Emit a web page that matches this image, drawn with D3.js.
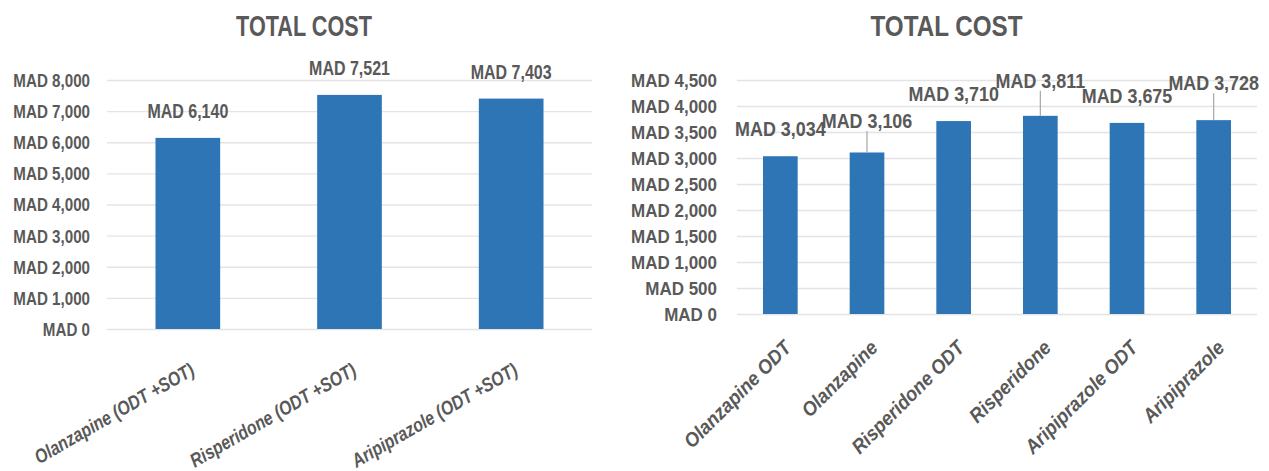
<!DOCTYPE html>
<html>
<head>
<meta charset="utf-8">
<script src="https://cdn.jsdelivr.net/npm/d3@7"></script>
<style>
  html, body { margin: 0; padding: 0; background: #ffffff; }
  svg { display: block; }
</style>
</head>
<body>
<svg id="chart" width="1269" height="471"></svg>
<script>
// Combined product cost (ODT + standard oral tablet)
const leftCategories = ["Olanzapine (ODT +SOT)", "Risperidone (ODT +SOT)", "Aripiprazole (ODT +SOT)"];
const leftValues = [6140, 7521, 7403];
const leftTicks = [0, 1000, 2000, 3000, 4000, 5000, 6000, 7000, 8000];

// Cost per formulation
const rightCategories = ["Olanzapine ODT", "Olanzapine", "Risperidone ODT", "Risperidone", "Aripiprazole ODT", "Aripiprazole"];
const rightValues = [3034, 3106, 3710, 3811, 3675, 3728];
const rightTicks = [0, 500, 1000, 1500, 2000, 2500, 3000, 3500, 4000, 4500];

const titleText = "TOTAL COST";

// Regular-width face, squeezed horizontally to a narrow look
const FONT = "'Liberation Sans', Arial, sans-serif";
const NARROW = 0.82;
const TITLE_NARROW = 0.91;
const TEXT_COLOR = "#595959";
const BAR_COLOR = "#2e75b6";
const GRID_COLOR = "#e4e4e4";
const LEADER_COLOR = "#a6a6a6";

const fmt = v => "MAD " + d3.format(",")(v);
const svg = d3.select("#chart");

function drawChart(cfg) {
  const sx = NARROW * cfg.widen;
  const g = svg.append("g");
  const x = d3.scaleBand().domain(cfg.categories)
    .range([cfg.x0, cfg.x1]).paddingInner(0.6).paddingOuter(0.3);
  const y = d3.scaleLinear().domain([0, d3.max(cfg.ticks)])
    .range([cfg.yBottom, cfg.yTop]);

  // horizontal gridlines
  const grid = g.append("g")
    .attr("transform", `translate(${cfg.x0},0)`)
    .call(d3.axisLeft(y).tickValues(cfg.ticks).tickSize(-(cfg.x1 - cfg.x0)).tickFormat(""));
  grid.select(".domain").remove();
  grid.selectAll("line").attr("stroke", GRID_COLOR).attr("stroke-width", 1.4);

  // value axis labels
  const yAxis = g.append("g")
    .attr("transform", `translate(${cfg.x0 - cfg.tickPad},0)`)
    .call(d3.axisLeft(y).tickValues(cfg.ticks).tickSize(0).tickPadding(0).tickFormat(fmt));
  yAxis.select(".domain").remove();
  yAxis.selectAll("line").remove();
  yAxis.selectAll("text")
    .attr("font-family", FONT).attr("font-weight", "bold")
    .attr("font-size", cfg.tickFont).attr("fill", TEXT_COLOR)
    .attr("x", 0).attr("dy", "0.35em")
    .attr("transform", `scale(${sx},1)`);

  const data = cfg.categories.map((c, i) => ({ c, v: cfg.values[i], lift: cfg.lift[i] }));

  // bars
  g.append("g").selectAll("rect").data(data).join("rect")
    .attr("x", d => x(d.c)).attr("width", x.bandwidth())
    .attr("y", d => y(d.v)).attr("height", d => y(0) - y(d.v))
    .attr("fill", BAR_COLOR);

  // leader lines for labels that sit further above their bar
  g.append("g").selectAll("line").data(data.filter(d => d.lift > 0)).join("line")
    .attr("x1", d => x(d.c) + x.bandwidth() / 2)
    .attr("x2", d => x(d.c) + x.bandwidth() / 2)
    .attr("y1", d => y(d.v) - cfg.labelGap - d.lift + 3)
    .attr("y2", d => y(d.v))
    .attr("stroke", LEADER_COLOR).attr("stroke-width", 1.2);

  // value labels
  g.append("g").selectAll("text").data(data).join("text")
    .attr("transform", d => `translate(${x(d.c) + x.bandwidth() / 2},${y(d.v) - cfg.labelGap - d.lift}) scale(${sx},1)`)
    .attr("text-anchor", "middle")
    .attr("font-family", FONT).attr("font-weight", "bold")
    .attr("font-size", cfg.labelFont).attr("fill", TEXT_COLOR)
    .text(d => fmt(d.v));

  // category labels
  g.append("g").selectAll("text").data(data).join("text")
    .attr("transform", d => `translate(${x(d.c) + x.bandwidth() / 2 + cfg.catDx},${cfg.yBottom + cfg.catDy}) rotate(${cfg.catRot}) scale(${sx},1)`)
    .attr("text-anchor", "end")
    .attr("font-family", FONT).attr("font-weight", "bold").attr("font-style", "italic")
    .attr("font-size", cfg.catFont).attr("fill", TEXT_COLOR)
    .text(d => d.c);

  // title
  g.append("text")
    .attr("transform", `translate(${cfg.titleX},36) scale(${sx * TITLE_NARROW},1)`)
    .attr("text-anchor", "middle")
    .attr("font-family", FONT).attr("font-weight", "bold")
    .attr("font-size", 29).attr("fill", TEXT_COLOR)
    .text(titleText);
}

drawChart({
  categories: leftCategories, values: leftValues, ticks: leftTicks,
  lift: [0, 0, 0],
  x0: 107, x1: 592, yBottom: 329, yTop: 80,
  widen: 1.0, tickPad: 17, tickFont: 18.5, labelFont: 19.5, labelGap: 19.5,
  catFont: 19.5, catRot: -30, catDx: 8, catDy: 45,
  titleX: 304
});

drawChart({
  categories: rightCategories, values: rightValues, ticks: rightTicks,
  lift: [0, 4.5, 0, 8, 0, 10],
  x0: 737, x1: 1257, yBottom: 314, yTop: 80,
  widen: 1.12, tickPad: 20, tickFont: 18.5, labelFont: 19.5, labelGap: 20,
  catFont: 20, catRot: -45, catDx: 12, catDy: 35,
  titleX: 946.5
});
</script>
</body>
</html>
